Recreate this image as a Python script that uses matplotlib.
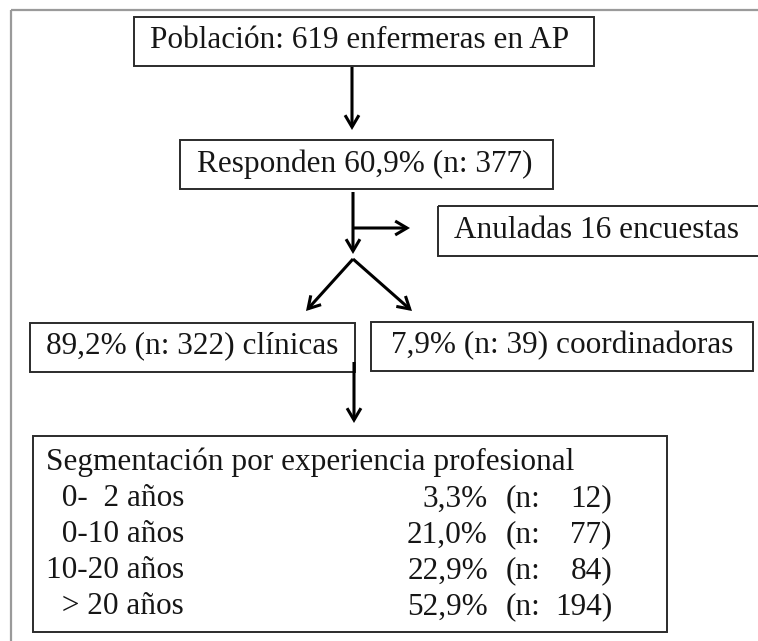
import matplotlib
matplotlib.use("Agg")
import matplotlib.pyplot as plt
from matplotlib.patches import Rectangle

# ---- data ----
population_n = 619
response_pct = 60.9
response_n = 377
annulled_n = 16
clinical_pct = 89.2
clinical_n = 322
coord_pct = 7.9
coord_n = 39
exp_title = "Segmentación por experiencia profesional"
exp_labels = ["  0-  2 años", "  0-10 años", "10-20 años", "  > 20 años"]
exp_pct = [3.3, 21.0, 22.9, 52.9]
exp_n = [12, 77, 84, 194]


def pct(v):
    return f"{v:.1f}%".replace(".", ",")


W, H = 758, 641
fig = plt.figure(figsize=(W / 100, H / 100), dpi=100)
ax = fig.add_axes([0, 0, 1, 1])
ax.set_xlim(0, W)
ax.set_ylim(H, 0)
ax.axis("off")

FONT = "Liberation Serif"
FS = 22.5
BOXC = "#2b2b2b"
LC = "black"

# outer frame (top + left)
ax.plot([10.5, W], [9.5, 9.5], color="#9a9a9a", lw=1.6, solid_capstyle="butt")
ax.plot([10.5, 10.5], [9.5, H], color="#9a9a9a", lw=1.6, solid_capstyle="butt")


def box(x0, y0, x1, y1):
    ax.add_patch(Rectangle((x0, y0), x1 - x0, y1 - y0, fill=False,
                           edgecolor=BOXC, lw=1.4))


def txt(x, y, s, ha="center", **kw):
    ax.text(x, y, s, ha=ha, va="center", fontsize=FS, family=FONT,
            color="#161616", **kw)


def arrow(x0, y0, x1, y1):
    ax.annotate("", xy=(x1, y1), xytext=(x0, y0),
                arrowprops=dict(arrowstyle="->,head_length=0.85,head_width=0.5",
                                color=LC, lw=2.2, shrinkA=0, shrinkB=0,
                                joinstyle="miter", capstyle="butt"))


# box 1
box(134, 17, 594, 66)
txt(360, 41, f"Población: {population_n} enfermeras en AP")
arrow(352, 67, 352, 130)

# box 2
box(180, 140, 553, 189)
txt(365, 164, f"Responden {pct(response_pct)} (n: {response_n})")

# branch
arrow(353, 192, 353, 254)
arrow(353, 228, 410, 228)
box(438, 206, 760, 256)
txt(597, 230, f"Anuladas {annulled_n} encuestas")

# fork
arrow(353, 259, 306, 311)
arrow(353, 259, 412, 311)

# level 3 boxes
box(30, 323, 355, 372)
txt(192, 346, f"{pct(clinical_pct)} (n: {clinical_n}) clínicas")
box(371, 322, 753, 371)
txt(562, 346, f"{pct(coord_pct)} (n: {coord_n}) coordinadoras")

arrow(354, 362, 354, 423)

# segmentation box
box(33, 436, 667, 632)
txt(46, 462, exp_title, ha="left")
row_y0, row_dy = 499, 36
for i, (lab, p, n) in enumerate(zip(exp_labels, exp_pct, exp_n)):
    y = row_y0 + i * row_dy
    txt(46, y, lab, ha="left")
    txt(488, y, pct(p), ha="right")
    txt(506, y, "(n:", ha="left")
    txt(612, y, f"{n})", ha="right")

fig.savefig("out.png", dpi=100, facecolor="white")
